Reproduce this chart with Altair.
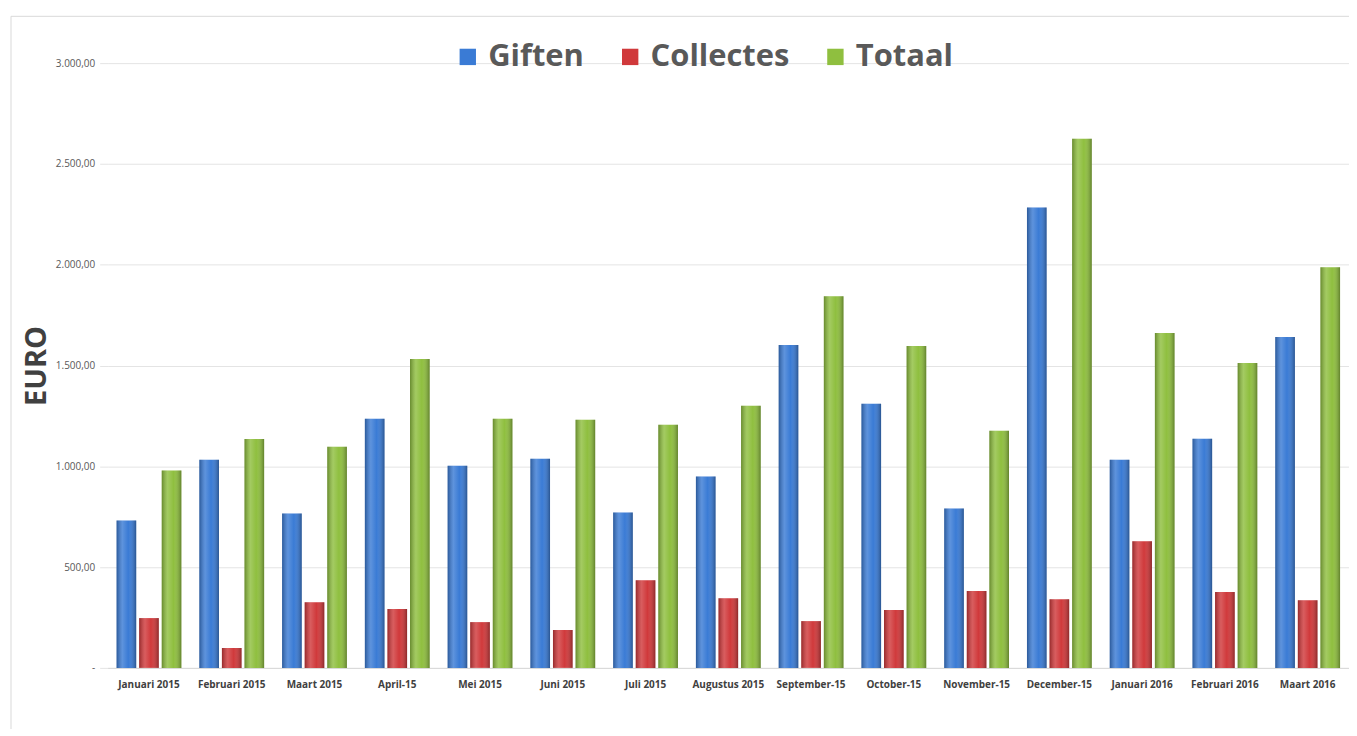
import altair as alt
import pandas as pd

maanden = ["Januari 2015", "Februari 2015", "Maart 2015", "April-15", "Mei 2015",
           "Juni 2015", "Juli 2015", "Augustus 2015", "September-15", "October-15",
           "November-15", "December-15", "Januari 2016", "Februari 2016", "Maart 2016"]
reeksen = ["Giften", "Collectes", "Totaal"]
giften = [731, 1033, 766, 1236, 1003, 1038, 771, 949, 1602, 1310, 791, 2284, 1033, 1137, 1641]
collectes = [247, 99, 326, 292, 227, 188, 435, 346, 232, 287, 381, 341, 628, 376, 336]
totaal = [979, 1135, 1097, 1532, 1236, 1231, 1206, 1300, 1844, 1597, 1176, 2625, 1661, 1513, 1987]
kleuren = ["#3a7bd5", "#d0393b", "#8fbf3f"]
y_ticks = [0, 500, 1000, 1500, 2000, 2500, 3000]

rows = []
for i, m in enumerate(maanden):
    for r, vals in zip(reeksen, [giften, collectes, totaal]):
        rows.append({"maand": m, "reeks": r, "waarde": vals[i]})
df = pd.DataFrame(rows)

font = "Open Sans"

x_enc = alt.X("maand:N", sort=maanden,
              scale=alt.Scale(paddingInner=0.217, paddingOuter=0.108),
              axis=alt.Axis(title=None, labelAngle=0, labelFont=font, labelFontSize=10,
                            labelFontWeight="bold", labelColor="#404040", ticks=False,
                            domainColor="#d9d9d9", labelPadding=12, labelLimit=200))
xoff_enc = alt.XOffset("reeks:N", sort=reeksen,
                       scale=alt.Scale(domain=reeksen, paddingInner=0.13))
label_expr = ("datum.value == 0 ? '-' : replace(replace(replace(format(datum.value, ',.2f'), ',', '#'), '.', ','), '#', '.')")
y_enc = alt.Y("waarde:Q", scale=alt.Scale(domain=[0, 3000], nice=False),
              axis=alt.Axis(values=y_ticks, labelExpr=label_expr, tickSize=8,
                            tickColor="#e4e4e4", gridColor="#e4e4e4", domain=False,
                            labelFont=font, labelFontSize=10, labelColor="#595959",
                            labelPadding=5, title="EURO", titleFont=font,
                            titleFontSize=29, titleFontWeight="bold", titleColor="#404040",
                            titleAngle=-90, titleX=-71, titleBaseline="middle"))

one = pd.DataFrame({"k": [0]})
frame_top = alt.Chart(one).mark_rule(color="#d9d9d9", strokeWidth=1, clip=False).encode(
    x=alt.value(-97), x2=alt.value(1300), y=alt.value(-47))
frame_left = alt.Chart(one).mark_rule(color="#d9d9d9", strokeWidth=1, clip=False).encode(
    x=alt.value(-97), y=alt.value(-47), y2=alt.value(720))

base = alt.Chart(df).mark_bar().encode(
    x=x_enc, xOffset=xoff_enc, y=y_enc,
    color=alt.Color("reeks:N", sort=reeksen,
                    scale=alt.Scale(domain=reeksen, range=kleuren),
                    legend=alt.Legend(title=None, orient="none", legendX=346, legendY=-22,
                                      direction="horizontal", columns=3,
                                      symbolType="square", symbolSize=270,
                                      symbolStrokeWidth=0, symbolOpacity=1,
                                      labelFont=font, labelFontSize=31,
                                      labelFontWeight="bold", labelColor="#595959",
                                      labelOffset=5, columnPadding=30, padding=0,
                                      labelLimit=300)),
)

shade = alt.Chart(df).mark_bar(
    color=alt.Gradient(gradient="linear", x1=0, x2=1, y1=0, y2=0,
                       stops=[alt.GradientStop(offset=0, color="rgba(0,0,0,0.28)"),
                              alt.GradientStop(offset=0.3, color="rgba(255,255,255,0.18)"),
                              alt.GradientStop(offset=0.6, color="rgba(255,255,255,0.0)"),
                              alt.GradientStop(offset=1, color="rgba(0,0,0,0.32)")])
).encode(x=x_enc, xOffset=xoff_enc, y=y_enc)

chart = alt.layer(frame_top, frame_left, base, shade).properties(
    width=1246, height=607,
    autosize=alt.AutoSizeParams(type="none"),
    padding={"left": 100, "top": 54, "right": 0, "bottom": 60},
    background="white",
).configure_view(stroke=None)

chart.save("out.html", embed_options={"renderer": "svg", "actions": False})
